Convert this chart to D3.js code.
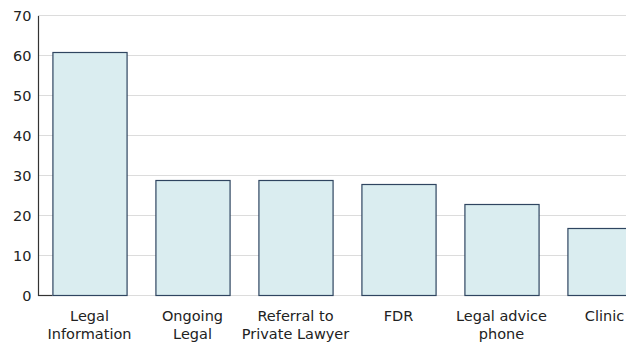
<!DOCTYPE html>
<html>
<head>
<meta charset="utf-8">
<script src="https://cdn.jsdelivr.net/npm/d3@7"></script>
<style>
  html, body { margin: 0; padding: 0; background: #fff; }
  svg { display: block; font-family: "DejaVu Sans", sans-serif; }
</style>
</head>
<body>
<svg id="chart" width="626" height="343"></svg>
<script>
// Service types and counts
const categories = [
  ["Legal", "Information"],
  ["Ongoing", "Legal"],
  ["Referral to", "Private Lawyer"],
  ["FDR"],
  ["Legal advice", "phone"],
  ["Clinic"]
];
const values = [61, 29, 29, 28, 23, 17];
const yTicks = [0, 10, 20, 30, 40, 50, 60, 70];

const svg = d3.select("#chart");
const plotLeft = 38, plotTop = 16, plotBottom = 296;

const x = d3.scaleBand()
  .domain(d3.range(categories.length))
  .range([plotLeft, plotLeft + 618])
  .paddingInner(0.28)
  .paddingOuter(0.14);

const y = d3.scaleLinear().domain([0, 70]).range([plotBottom, plotTop]);

// Horizontal gridlines
svg.append("g")
  .selectAll("line")
  .data(yTicks)
  .join("line")
  .attr("x1", plotLeft)
  .attr("x2", 626)
  .attr("y1", d => y(d) - 0.5)
  .attr("y2", d => y(d) - 0.5)
  .attr("stroke", "#dcdcdc")
  .attr("stroke-width", 1);

// Y axis
const yAxis = d3.axisLeft(y)
  .tickValues(yTicks)
  .tickSize(0)
  .tickPadding(7);
const ga = svg.append("g")
  .attr("transform", `translate(${plotLeft + 0.5},0)`)
  .call(yAxis);
ga.select(".domain").remove();
ga.selectAll("text")
  .attr("font-size", 14.5)
  .attr("font-family", "DejaVu Sans, sans-serif")
  .attr("fill", "#222");

svg.append("line")
  .attr("x1", plotLeft + 0.5).attr("x2", plotLeft + 0.5)
  .attr("y1", y(70)).attr("y2", y(0))
  .attr("stroke", "#333").attr("stroke-width", 1.2);
svg.append("line")
  .attr("x1", plotLeft).attr("x2", x(0))
  .attr("y1", y(0) - 0.5).attr("y2", y(0) - 0.5)
  .attr("stroke", "#333").attr("stroke-width", 1.2);

// Bars
svg.append("g")
  .selectAll("rect")
  .data(values)
  .join("rect")
  .attr("x", (d, i) => x(i) + 0.5)
  .attr("y", d => y(d) + 0.5)
  .attr("width", x.bandwidth())
  .attr("height", d => y(0) - y(d) - 1)
  .attr("fill", "#daedf0")
  .attr("stroke", "#2f4560")
  .attr("stroke-width", 1.2);

// Category labels
const lab = svg.append("g")
  .selectAll("text")
  .data(categories)
  .join("text")
  .attr("x", (d, i) => x(i) + x.bandwidth() / 2)
  .attr("y", 321)
  .attr("text-anchor", "middle")
  .attr("font-size", 14.5)
  .attr("fill", "#222");
lab.selectAll("tspan")
  .data(d => d)
  .join("tspan")
  .attr("x", function () { return this.parentNode.getAttribute("x"); })
  .attr("dy", (d, i) => i === 0 ? 0 : 17.5)
  .text(d => d);
</script>
</body>
</html>
